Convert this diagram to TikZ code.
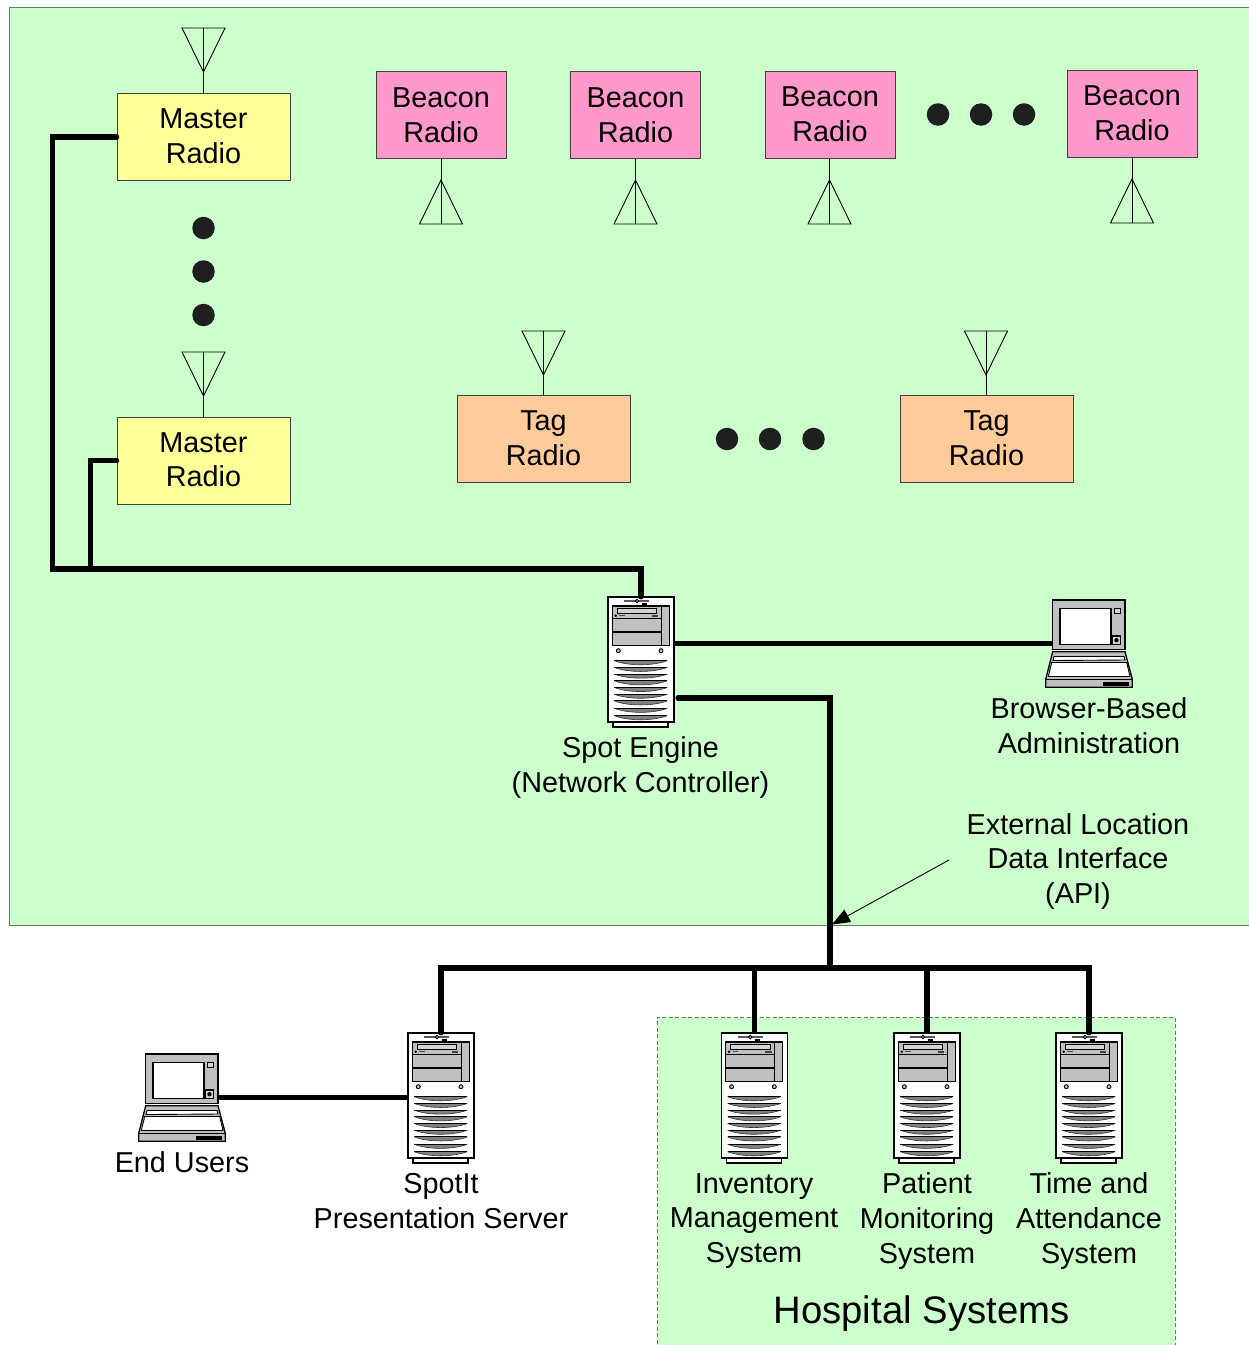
\documentclass[tikz,border=0pt]{standalone}
\usepackage{fontspec}
\setmainfont{Liberation Sans}
\usetikzlibrary{calc,arrows.meta}
\definecolor{zone}{HTML}{CCFFCC}
\definecolor{zoneline}{HTML}{5F7F5F}
\definecolor{beaconc}{HTML}{FF99CC}
\definecolor{masterc}{HTML}{FFFF99}
\definecolor{tagc}{HTML}{FFCC99}
\definecolor{panel}{HTML}{C0C0C0}
\newcommand{\liftup}{\rule[-2pt]{0pt}{2pt}}
\tikzset{
  zonebox/.style={fill=zone,draw=zoneline,line width=1pt},
  radiobox/.style={draw=black!75,line width=0.8pt,align=center,inner sep=0pt,font=\fontsize{28.8}{34.7}\selectfont},
  beacon/.style={radiobox,fill=beaconc,minimum width=130pt,minimum height=87pt},
  master/.style={radiobox,fill=masterc,minimum width=173pt,minimum height=86.5pt},
  tagradio/.style={radiobox,fill=tagc,minimum width=173pt,minimum height=87pt},
  ant/.style={draw=black,line width=0.9pt},
  bigdot/.style={circle,fill=black!88,minimum size=22.5pt,inner sep=0pt},
  lbl/.style={align=center,inner sep=0pt,font=\fontsize{28.8}{34.7}\selectfont},
  wire/.style={draw=black,line width=5.3pt,line cap=round,line join=miter},
  pointer/.style={draw=black,line width=0.9pt,-{Triangle[length=18pt,width=14pt]}},
  serverbox/.style={minimum width=66pt,minimum height=125pt,inner sep=0pt},
  laptopbox/.style={minimum width=87pt,minimum height=87pt,inner sep=0pt},
  eq/.style={draw=black,line width=1.3pt},
  eqthin/.style={draw=black,line width=0.9pt}
}
% #1 name, #2 left x, #3 top y
\newcommand{\serverat}[3]{%
  \node[serverbox] (#1) at ($(#2,#3)+(33,62.5)$) {};
  \begin{scope}[shift={(#2,#3)}]
    \draw[eq,fill=white] (5,125) rectangle (60,130);
    \draw[eq,fill=white,line width=1.5pt] (0,0) rectangle (66,125);
    \draw[eq,fill=panel] (4.3,9) rectangle (61.3,48.7);
    \draw[eq,line width=1.5pt] (53.3,9) -- (53.3,48.7);
    \draw[eq] (4.3,21.3) -- (53.3,21.3);
    \draw[eq] (4.3,35) -- (53.3,35);
    \draw[eqthin,fill=panel!70] (9.3,11.3) rectangle (48.7,16.3);
    \fill[black] (7.7,18.7) circle (1.4);
    \draw[line width=1pt,black!70] (11.3,18.7) -- (17,18.7);
    \draw[line width=1.6pt,black!75] (43.7,18.7) -- (50.3,18.7);
    \draw[line width=2pt,black!65] (16.3,4) -- (41.3,4);
    \draw[eqthin,fill=panel] (29,4) circle (1.8);
    \draw[line width=1.7pt,black] (33.7,7) -- (38.7,7);
    \draw[eqthin,fill=panel] (10.3,53.7) circle (2);
    \draw[eqthin,fill=panel] (53,53.7) circle (2);
    \foreach \v in {63.7,70.4,77.1,83.8,90.5,97.2,103.9,111.3,118.7}{
      \fill[black!50] (6.3,\v) .. controls (20,\v+5.4) and (45,\v+5.4) .. (59.3,\v) -- cycle;
      \draw[line width=1.1pt,black] (6.3,\v) -- (59.3,\v);
      \draw[line width=0.6pt,black!80] (6.3,\v) .. controls (20,\v+5.4) and (45,\v+5.4) .. (59.3,\v);
    }
  \end{scope}%
}
\newcommand{\laptopat}[3]{%
  \node[laptopbox] (#1) at ($(#2,#3)+(43.5,43.5)$) {};
  \begin{scope}[shift={(#2,#3)}]
    \draw[eq,fill=panel] (7.7,51.7) -- (80,51.7) -- (87.3,79.3) -- (87.3,87.3) -- (0.7,87.3) -- (0.7,79.3) -- cycle;
    \draw[eqthin] (0.7,79.3) -- (87.3,79.3);
    \draw[eqthin,fill=white] (9,56.5) -- (79,56.5) -- (80,60) -- (8,60.5) -- cycle;
    \draw[eqthin,fill=white] (6.7,62.5) -- (81.7,62.5) -- (85,76.5) -- (3.3,76.5) -- cycle;
    \fill[black] (57.7,82.3) rectangle (84.3,86);
    \draw[eq,fill=panel,line width=1.5pt] (7.7,0) rectangle (80,49.3);
    \draw[eq,fill=white,line width=1.5pt] (15,8.3) rectangle (66,44.3);
    \draw[eqthin,fill=panel!70] (69,8.3) rectangle (75,13.3);
    \draw[eq,fill=panel!70] (67.3,36) rectangle (75.7,44.3);
    \fill[black] (71.5,40.2) circle (2.2);
  \end{scope}%
}
\newcommand{\antdown}[3]{% apex-down antenna: x, top y, stem bottom y
  \draw[ant] (#1-21.5,#2) -- (#1+21.5,#2) -- (#1,#2+44) -- cycle;
  \draw[ant] (#1,#2) -- (#1,#3);
}
\newcommand{\antup}[3]{% apex-up antenna: x, stem top y, base y
  \draw[ant] (#1-21.5,#3) -- (#1+21.5,#3) -- (#1,#3-44) -- cycle;
  \draw[ant] (#1,#2) -- (#1,#3);
}
\begin{document}
\begin{tikzpicture}[x=1pt,y=-1pt]
\useasboundingbox (0,0) rectangle (1249,1345);
\begin{scope}
  \clip (0,0) rectangle (1249,1345);
  \draw[zonebox] (9,7.7) rectangle (1260,925);
  \fill[zone] (657,1017) rectangle (1175,1350);
  \draw[draw=zoneline,line width=1pt,dashed,dash pattern=on 4pt off 2.5pt] (657,1350) -- (657,1017) -- (1175,1017) -- (1175,1350);
\end{scope}

% antennas
\antdown{203.5}{28}{94}
\antdown{203.5}{352}{418}
\antup{441}{159}{224}
\antup{635.5}{159}{224}
\antup{829.5}{158}{224}
\antup{1132}{158}{223}
\antdown{543.5}{331}{396}
\antdown{986}{331}{396}

% radios
\node[master] (m1) at (203.5,137) {Master\\Radio\liftup};
\node[master] (m2) at (203.5,460.7) {Master\\Radio\liftup};
\node[beacon] (b1) at (441,115.3) {Beacon\\Radio};
\node[beacon] (b2) at (635.5,115.3) {Beacon\\Radio};
\node[beacon] (b3) at (830,114.8) {Beacon\\Radio\liftup};
\node[beacon] (b4) at (1132,114.3) {Beacon\\Radio\liftup};
\node[tagradio] (t1) at (543.5,439.2) {Tag\\Radio\liftup};
\node[tagradio] (t2) at (986.5,439.2) {Tag\\Radio\liftup};

% ellipsis dots
\node[bigdot] (d1) at (203.5,228) {};
\node[bigdot] (d2) at (203.5,271.5) {};
\node[bigdot] (d3) at (203.5,315) {};
\node[bigdot] (d4) at (938,114.5) {};
\node[bigdot] (d5) at (981,114.5) {};
\node[bigdot] (d6) at (1024,114.5) {};
\node[bigdot] (d7) at (727,439) {};
\node[bigdot] (d8) at (770,439) {};
\node[bigdot] (d9) at (813.5,439) {};

% equipment
\serverat{spot}{608}{597}
\serverat{spotit}{408}{1033}
\serverat{inv}{721.3}{1033}
\serverat{pat}{894}{1033}
\serverat{tim}{1056}{1033}
\laptopat{admin}{1045}{600}
\laptopat{users}{138}{1054}

% free ends and junctions
\coordinate (railL) at (52.5,569);
\coordinate (railR) at (90.5,569);
\coordinate (apiout) at (678,698);
\coordinate (apibend) at (830,698);
\coordinate (bus) at (830,968);
\coordinate (apihit) at (832,924.5);
\coordinate (apifrom) at (949,860);

% connectors
\draw[wire] (m1.west) -- (m1.west -| railL) -- (railL) -- (railL -| spot.north) -- (spot.north);
\draw[wire] (m2.west) -- (m2.west -| railR) -- (railR);
\draw[wire,line cap=butt] (spot.east |- admin.center) -- ($(admin.center)+(-35.5,0)$);
\draw[wire] (apiout) -- (apibend) -- (bus);
\draw[wire] (spotit.north) -- (spotit.north |- bus) -- (tim.north |- bus) -- (tim.north);
\draw[wire,line cap=butt] (inv.north |- bus) -- (inv.north);
\draw[wire,line cap=butt] (pat.north |- bus) -- (pat.north);
\draw[wire,line cap=butt] (users.center) ++(36.5,0) -- (spotit.west |- users.center);
\draw[pointer] (apifrom) -- (apihit);

% labels
\node[lbl] (l1) at (640.5,767.3) {Spot Engine\\(Network Controller)};
\node[lbl] (l2) at (1089,725.8) {Browser-Based\\Administration};
\node[lbl] (l3) at (1078,861.5) {External Location\\Data Interface\\(API)};
\node[lbl] (l4) at (182,1162.3) {End Users};
\node[lbl] (l5) at (441,1201) {SpotIt\\Presentation Server};
\node[lbl] (l6) at (754,1220.9) {Inventory\\Management\\System};
\node[lbl] (l7) at (927,1220.9) {Patient\\Monitoring\\System};
\node[lbl] (l8) at (1089,1220.9) {Time and\\Attendance\\System};
\node[inner sep=0pt,font=\fontsize{38.3}{44}\selectfont] (l9) at (921.5,1314) {Hospital Systems};
\end{tikzpicture}
\end{document}
